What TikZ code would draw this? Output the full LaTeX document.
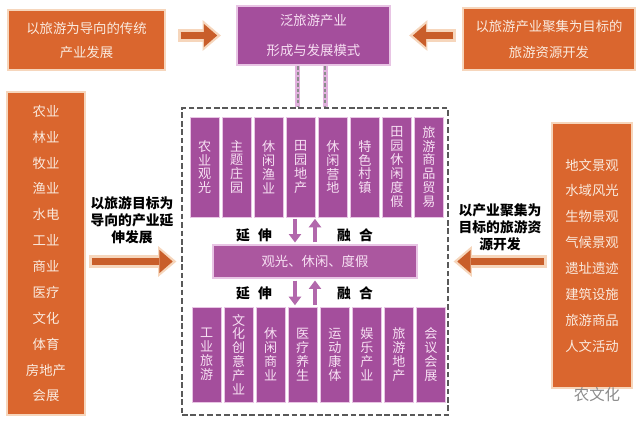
\documentclass[tikz,border=0pt]{standalone}
\usepackage{fontspec}
\setmainfont{Noto Sans CJK SC}
\usetikzlibrary{positioning,arrows.meta}

\definecolor{orangefill}{RGB}{218,102,46}
\definecolor{orangeedge}{RGB}{246,214,188}
\definecolor{purplefill}{RGB}{164,78,156}
\definecolor{purpleedge}{RGB}{232,196,228}
\definecolor{boxtext}{RGB}{250,234,222}
\definecolor{celltext}{RGB}{247,224,243}
\definecolor{linkpink}{RGB}{226,178,222}
\definecolor{arrowpurple}{RGB}{178,104,172}

\tikzset{
  obox/.style={draw=orangeedge, line width=1.6pt, fill=orangefill, text=boxtext, align=center, inner sep=0pt},
  pbox/.style={draw=purpleedge, line width=1.6pt, fill=purplefill, text=celltext, align=center, inner sep=0pt},
  cell/.style={pbox, line width=0.6pt, minimum width=0.73cm, font=\fontsize{9.3}{9.9}\selectfont},
  ucell/.style={cell, minimum height=2.5cm},
  lcell/.style={cell, minimum height=2.375cm},
  dashframe/.style={draw=black!65, line width=1.1pt, dash pattern=on 4pt off 2pt, minimum width=6.65cm, minimum height=7.675cm},
  fatout/.style={draw=orangeedge, line width=9pt, -{Triangle[length=13pt,width=22pt,line width=0pt]}},
  fatin/.style={draw=orangefill!92!black, line width=5.5pt, -{Triangle[length=9.5pt,width=16.5pt,line width=0pt]}},
  vlink/.style={draw=arrowpurple, line width=2.4pt, shorten <=1pt, shorten >=1pt, -{Triangle[length=6pt,width=9pt,line width=0pt]}},
  dlink/.style={draw=black!45, line width=1pt, dash pattern=on 2.5pt off 1.5pt, preaction={draw=linkpink, line width=3.5pt, solid}},
  lbl/.style={font=\bfseries\fontsize{9.8}{12}\selectfont, align=center}
}

% block arrow with a light rim
\newcommand\fatarrow[4]{%
  \draw[fatout, shorten <=#3, shorten >=#4] (#1) -- (#2);
  \draw[fatin, shorten <=#3+1.8pt, shorten >=#4+2.6pt] (#1) -- (#2);}

\begin{document}
\begin{tikzpicture}[x=0.025cm, y=-0.025cm]

  \useasboundingbox (0,0) rectangle (640,422);
  \fill[white] (0,0) rectangle (640,422);

  % top row
  \node (lt) [obox, minimum width=3.925cm, minimum height=1.5cm, font=\fontsize{9.5}{17}\selectfont] at (86.5,40) {以旅游为导向的传统\\产业发展};
  \node (tp) [pbox, minimum width=3.825cm, minimum height=1.475cm, font=\fontsize{9.5}{21}\selectfont] at (313.5,35.5) {泛旅游产业\\形成与发展模式};
  \node (rt) [obox, minimum width=4.3cm, minimum height=1.55cm, font=\fontsize{9.5}{18.5}\selectfont] at (549,39) {以旅游产业聚集为目标的\\旅游资源开发};

  % side columns
  \node (lcol) [obox, minimum width=1.95cm, minimum height=8.075cm, font=\fontsize{9.5}{18.4}\selectfont] at (46,253.5)
    {农业\\林业\\牧业\\渔业\\水电\\工业\\商业\\医疗\\文化\\体育\\房地产\\会展};
  \node (rcol) [obox, minimum width=2cm, minimum height=6.625cm, font=\fontsize{9.5}{18.4}\selectfont] at (592,255.5)
    {地文景观\\水域风光\\生物景观\\气候景观\\遗址遗迹\\建筑设施\\旅游商品\\人文活动};

  % dashed frame
  \node (frame) [dashframe] at (315,261.5) {};

  % upper cells
  \node (u1) [ucell] at (204.6,167) {农\\业\\观\\光};
  \node (u2) [ucell, right=0.05cm of u1] {主\\题\\庄\\园};
  \node (u3) [ucell, right=0.05cm of u2] {休\\闲\\渔\\业};
  \node (u4) [ucell, right=0.05cm of u3] {田\\园\\地\\产};
  \node (u5) [ucell, right=0.05cm of u4] {休\\闲\\营\\地};
  \node (u6) [ucell, right=0.05cm of u5] {特\\色\\村\\镇};
  \node (u7) [ucell, right=0.05cm of u6] {田\\园\\休\\闲\\度\\假};
  \node (u8) [ucell, right=0.05cm of u7] {旅\\游\\商\\品\\贸\\易};

  % middle bar
  \node (mid) [pbox, minimum width=5.1cm, minimum height=0.825cm, fill=purplefill!92!pink, font=\fontsize{9.5}{12}\selectfont] at (315,261.5) {观光、休闲、度假};

  % lower cells
  \node (l1) [lcell] at (206.6,354.5) {工\\业\\旅\\游};
  \node (l2) [lcell, right=0.05cm of l1] {文\\化\\创\\意\\产\\业};
  \node (l3) [lcell, right=0.05cm of l2] {休\\闲\\商\\业};
  \node (l4) [lcell, right=0.05cm of l3] {医\\疗\\养\\生};
  \node (l5) [lcell, right=0.05cm of l4] {运\\动\\康\\体};
  \node (l6) [lcell, right=0.05cm of l5] {娱\\乐\\产\\业};
  \node (l7) [lcell, right=0.05cm of l6] {旅\\游\\地\\产};
  \node (l8) [lcell, right=0.05cm of l7] {会\\议\\会\\展};

  % labels
  \node (ext1) [lbl] at (254,235) {延\hspace{0.6em}伸};
  \node (fus1) [lbl] at (355,235) {融\hspace{0.6em}合};
  \node (ext2) [lbl] at (254,293) {延\hspace{0.6em}伸};
  \node (fus2) [lbl] at (355,293) {融\hspace{0.6em}合};
  \node (lnote) [lbl] at (132,220) {以旅游目标为\\导向的产业延\\伸发展};
  \node (rnote) [lbl] at (500,227) {以产业聚集为\\目标的旅游资\\源开发};
  \node (wm) [text=black!45, font=\fontsize{11}{11}\selectfont] at (597,395) {农文化};

  % connectors
  \fatarrow{lt.east |- tp.west}{tp.west}{0.3cm}{0.375cm}
  \fatarrow{rt.west |- tp.east}{tp.east}{0.15cm}{0.45cm}
  \fatarrow{lcol.east |- mid}{frame.west |- mid}{0.08cm}{0.12cm}
  \fatarrow{rcol.west |- mid}{frame.east |- mid}{0.1cm}{0.12cm}

  \draw[dlink] ([xshift=-0.39cm]tp.south) -- ([xshift=-0.39cm]tp.south |- frame.north);
  \draw[dlink] ([xshift=0.29cm]tp.south) -- ([xshift=0.29cm]tp.south |- frame.north);

  \draw[vlink] ([xshift=-0.5cm]mid.north |- u1.south) -- ([xshift=-0.5cm]mid.north);
  \draw[vlink] (mid.north) -- (mid.north |- u1.south);
  \draw[vlink] ([xshift=-0.5cm]mid.south) -- ([xshift=-0.5cm]mid.south |- l1.north);
  \draw[vlink] (mid.south |- l1.north) -- (mid.south);

\end{tikzpicture}
\end{document}
